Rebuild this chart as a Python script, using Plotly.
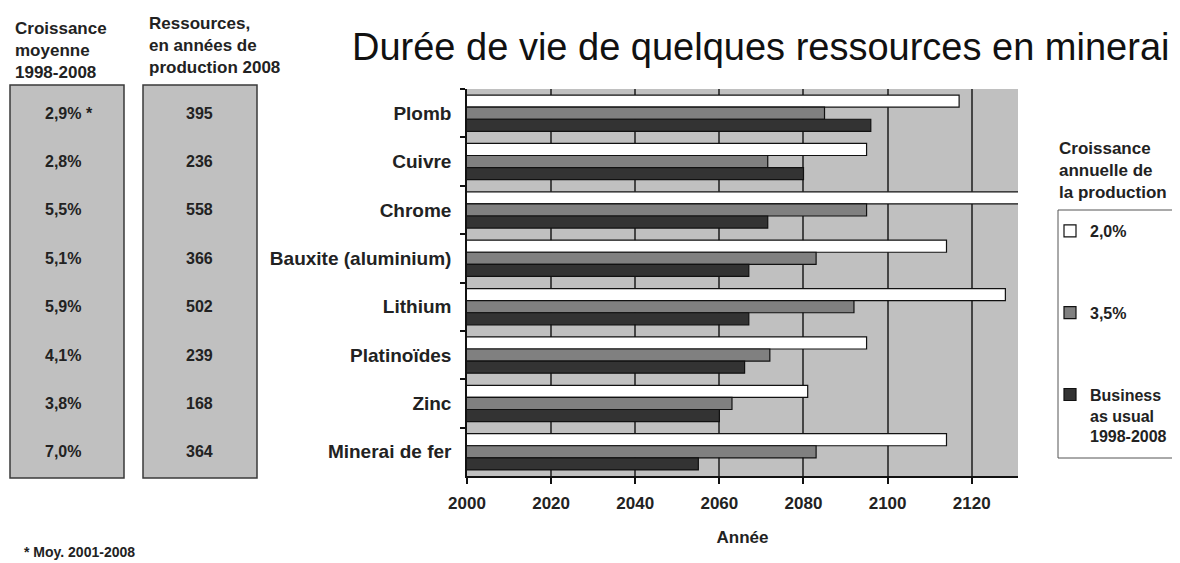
import plotly.graph_objects as go

# ---------------- data ----------------
categories = ["Plomb", "Cuivre", "Chrome", "Bauxite (aluminium)", "Lithium",
              "Platinoïdes", "Zinc", "Minerai de fer"]
growth_labels = ["2,9% *", "2,8%", "5,5%", "5,1%", "5,9%", "4,1%", "3,8%", "7,0%"]
resource_years = [395, 236, 558, 366, 502, 239, 168, 364]

year_growth_2_0 = [2117, 2095, 2134, 2114, 2128, 2095, 2081, 2114]
year_growth_3_5 = [2085, 2071.5, 2095, 2083, 2092, 2072, 2063, 2083]
year_business_as_usual = [2096, 2080, 2071.5, 2067, 2067, 2066, 2060, 2055]

series_names = ["2,0%", "3,5%", "Business<br>as usual<br>1998-2008"]
series_values = [year_growth_2_0, year_growth_3_5, year_business_as_usual]
series_colors = ["#ffffff", "#808080", "#333333"]

x_ticks = [2000, 2020, 2040, 2060, 2080, 2100, 2120]

# ---------------- layout geometry ----------------
OFF = 8                      # page body margin
W, H = 1180 - OFF, 563 - OFF
L, R, T, B = 467 - OFF, 162, 89 - OFF, 87
PW, PH = W - L - R, H - T - B
FONT = "Liberation Sans, Arial, sans-serif"


def px_x(p):
    return (p - OFF - L) / PW


def px_y(p):
    return (H - B - (p - OFF)) / PH


fig = go.Figure()
for name, vals, col in zip(series_names, series_values, series_colors):
    fig.add_trace(go.Bar(
        y=categories, x=vals, orientation="h", name=name,
        marker=dict(color=col, line=dict(color="#111111", width=1.2)),
        legendgroup=name,
    ))

annotations = []
val_font = dict(family=FONT, size=16, color="#222", weight="bold")
for cat, g, r in zip(categories, growth_labels, resource_years):
    annotations.append(dict(x=px_x(43), y=cat, xref="paper", yref="y", text=g,
                            showarrow=False, xanchor="left", yanchor="middle", font=val_font))
    annotations.append(dict(x=px_x(199), y=cat, xref="paper", yref="y", text=str(r),
                            showarrow=False, xanchor="center", yanchor="middle", font=val_font))

hdr_font = dict(family=FONT, size=17, color="#222", weight="bold")
annotations.append(dict(x=px_x(13), y=px_y(50), xref="paper", yref="paper",
                        text="Croissance<br>moyenne<br>1998-2008", showarrow=False,
                        xanchor="left", yanchor="middle", align="left", font=hdr_font))
annotations.append(dict(x=px_x(147), y=px_y(46), xref="paper", yref="paper",
                        text="Ressources,<br>en années de<br>production 2008", showarrow=False,
                        xanchor="left", yanchor="middle", align="left", font=hdr_font))
annotations.append(dict(x=px_x(1057), y=px_y(170), xref="paper", yref="paper",
                        text="Croissance<br>annuelle de<br>la production", showarrow=False,
                        xanchor="left", yanchor="middle", align="left", font=hdr_font))
annotations.append(dict(x=px_x(22), y=px_y(552), xref="paper", yref="paper",
                        text="* Moy. 2001-2008", showarrow=False,
                        xanchor="left", yanchor="middle",
                        font=dict(family=FONT, size=14, color="#222", weight="bold")))

shapes = []
for x0, x1 in [(10, 124), (143, 257)]:
    shapes.append(dict(type="rect", xref="paper", yref="paper",
                       x0=px_x(x0), x1=px_x(x1), y0=px_y(478), y1=px_y(85),
                       fillcolor="#c0c0c0", line=dict(color="#3a3a3a", width=1.5), layer="below"))
# legend frame
shapes.append(dict(type="rect", xref="paper", yref="paper",
                   x0=px_x(1058), x1=px_x(1200), y0=px_y(458), y1=px_y(210),
                   fillcolor="white", line=dict(color="#555", width=1), layer="below"))

fig.update_layout(
    width=W, height=H,
    margin=dict(l=L, r=R, t=T, b=B, autoexpand=False),
    paper_bgcolor="white", plot_bgcolor="#c0c0c0",
    barmode="group", bargap=0.25, bargroupgap=0,
    title=dict(text="Durée de vie de quelques ressources en minerai",
               font=dict(family=FONT, size=38, color="#111"),
               x=(352 - OFF) / W, xanchor="left", xref="container",
               y=1 - (47 - OFF) / H, yanchor="middle", yref="container"),
    font=dict(family=FONT, color="#222"),
    legend=dict(x=px_x(1050), y=px_y(214), xanchor="left", yanchor="top",
                xref="paper", yref="paper",
                bgcolor="rgba(0,0,0,0)", borderwidth=0,
                traceorder="grouped", tracegroupgap=58, valign="top",
                font=dict(family=FONT, size=16, color="#222", weight="bold"),
                itemwidth=30),
    annotations=annotations,
    shapes=shapes,
    xaxis=dict(range=[2000, 2131], tickvals=x_ticks, ticktext=[str(v) for v in x_ticks],
               showgrid=True, gridcolor="#454545", gridwidth=1.5,
               showline=True, linecolor="#111", linewidth=1.5,
               ticks="outside", ticklen=6, tickcolor="#111", tickwidth=1.5,
               tickfont=dict(family=FONT, size=17, color="#222", weight="bold"),
               ticklabelstandoff=5,
               title=dict(text="Année", font=dict(family=FONT, size=17, color="#222", weight="bold"),
                          standoff=19),
               zeroline=False, automargin=False, fixedrange=True),
    yaxis=dict(categoryorder="array", categoryarray=categories, autorange="reversed",
               showline=True, linecolor="#111", linewidth=1.5,
               ticks="outside", ticklen=5, tickcolor="#111", tickwidth=1.5,
               tickson="boundaries", showgrid=False,
               tickfont=dict(family=FONT, size=19, color="#222", weight="bold"),
               ticklabelstandoff=10,
               automargin=False, fixedrange=True),
)

fig.write_html("out.html")
